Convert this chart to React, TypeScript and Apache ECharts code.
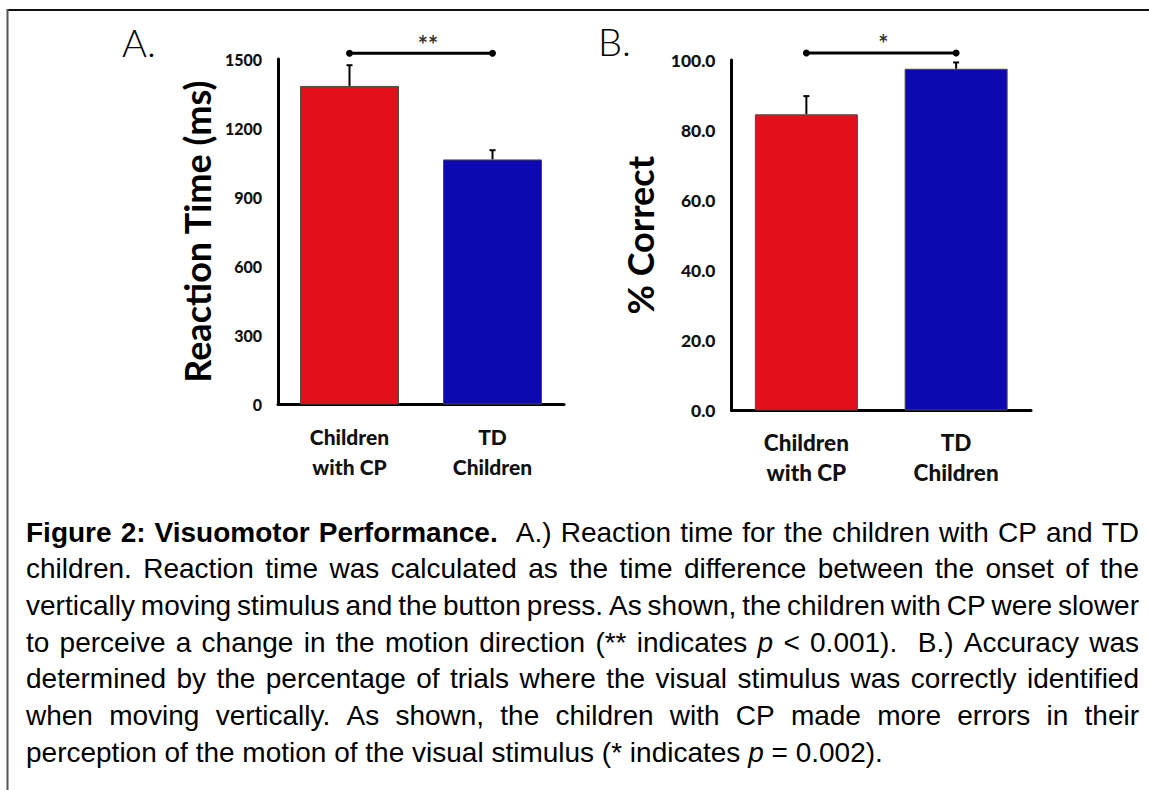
import React, { useEffect, useRef } from "react";
import * as echarts from "echarts";

// ---------- data ----------
const categories = ["Children\nwith CP", "TD\nChildren"];
const reactionTime = [1383, 1064];
const reactionTimeErr = [90, 40];
const percentCorrect = [84.5, 97.5];
const percentCorrectErr = [5.2, 1.8];
const rtAxis = { min: 0, max: 1500, interval: 300 };
const pcAxis = { min: 0, max: 100, interval: 20 };
const rtSigLevel = 1525;
const pcSigLevel = 102;
const rtSigText = "**";
const pcSigText = "*";
const barColors = ["#E1101A", "#0D09B0"];
const panelLabels = ["A.", "B."];
const axisNames = ["Reaction Time (ms)", "% Correct"];

type Seg = { t: string; b?: boolean; i?: boolean };
const captionLines: { segs: Seg[]; justify: boolean }[] = [
  { segs: [{ t: "Figure 2: Visuomotor Performance.", b: true }, { t: "  A.) Reaction time for the children with CP and TD" }], justify: true },
  { segs: [{ t: "children. Reaction time was calculated as the time difference between the onset of the" }], justify: true },
  { segs: [{ t: "vertically moving stimulus and the button press. As shown, the children with CP were slower" }], justify: true },
  { segs: [{ t: "to perceive a change in the motion direction (** indicates " }, { t: "p", i: true }, { t: " < 0.001).  B.) Accuracy was" }], justify: true },
  { segs: [{ t: "determined by the percentage of trials where the visual stimulus was correctly identified" }], justify: true },
  { segs: [{ t: "when moving vertically. As shown, the children with CP made more errors in their" }], justify: true },
  { segs: [{ t: "perception of the motion of the visual stimulus (* indicates " }, { t: "p", i: true }, { t: " = 0.002)." }], justify: false },
];

// ---------- layout constants ----------
const LABEL_FONT = "Lato, 'Open Sans', sans-serif";
const CAP_FONT = "'Liberation Sans', Arial, sans-serif";
const CAP_SIZE = 28;
const CAP_LEFT = 26;
const CAP_RIGHT = 1139;
const CAP_TOP = 532;
const CAP_LH = 36.7;

function buildCaption(): any[] {
  const canvas = document.createElement("canvas");
  const ctx = canvas.getContext("2d")!;
  const fontOf = (s: Seg) => `${s.i ? "italic " : ""}${s.b ? "bold " : ""}${CAP_SIZE}px ${CAP_FONT}`;
  const els: any[] = [];
  captionLines.forEach((line, li) => {
    const words: { t: string; seg: Seg; gapBefore: number; w: number }[] = [];
    let pendingGap = 0;
    line.segs.forEach((seg) => {
      const parts = seg.t.split(/( +)/);
      parts.forEach((p) => {
        if (p.length === 0) return;
        if (/^ +$/.test(p)) {
          pendingGap += p.length;
        } else {
          ctx.font = fontOf(seg);
          words.push({ t: p, seg, gapBefore: words.length ? pendingGap : 0, w: ctx.measureText(p).width });
          pendingGap = 0;
        }
      });
    });
    ctx.font = fontOf({ t: " " });
    const sp = ctx.measureText(" ").width;
    const totalW = words.reduce((a, w) => a + w.w, 0);
    const totalGap = words.reduce((a, w) => a + w.gapBefore, 0);
    const unit = line.justify ? (CAP_RIGHT - CAP_LEFT - totalW) / totalGap : sp;
    let x = CAP_LEFT;
    const y = CAP_TOP + li * CAP_LH;
    words.forEach((w) => {
      x += w.gapBefore * unit;
      els.push({
        type: "text",
        x,
        y,
        silent: true,
        style: {
          text: w.t,
          fill: "#000",
          fontSize: CAP_SIZE,
          fontFamily: CAP_FONT,
          fontWeight: w.seg.b ? "bold" : "normal",
          fontStyle: w.seg.i ? "italic" : "normal",
          align: "left",
          verticalAlign: "middle",
          textAlign: "left",
          textVerticalAlign: "middle",
        },
      });
      x += w.w;
    });
  });
  return els;
}

function errorSeries(values: number[], errs: number[], idx: number) {
  return {
    type: "custom",
    xAxisIndex: idx,
    yAxisIndex: idx,
    z: 1,
    clip: false,
    data: values.map((v, i) => [i, v, v + errs[i]]),
    renderItem: (_p: any, api: any) => {
      const base = api.coord([api.value(0), api.value(1)]);
      const top = api.coord([api.value(0), api.value(2)]);
      return {
        type: "group",
        children: [
          { type: "line", shape: { x1: base[0], y1: base[1], x2: top[0], y2: top[1] }, style: { stroke: "#000", lineWidth: 2 } },
          { type: "line", shape: { x1: top[0] - 3, y1: top[1], x2: top[0] + 3, y2: top[1] }, style: { stroke: "#000", lineWidth: 2 } },
        ],
      };
    },
  };
}

function sigSeries(level: number, text: string, idx: number, textDx: number) {
  return {
    type: "custom",
    xAxisIndex: idx,
    yAxisIndex: idx,
    z: 3,
    clip: false,
    data: [[0, 1, level]],
    renderItem: (_p: any, api: any) => {
      const p1 = api.coord([api.value(0), api.value(2)]);
      const p2 = api.coord([api.value(1), api.value(2)]);
      return {
        type: "group",
        children: [
          { type: "line", shape: { x1: p1[0], y1: p1[1], x2: p2[0], y2: p2[1] }, style: { stroke: "#000", lineWidth: 3 } },
          { type: "circle", shape: { cx: p1[0], cy: p1[1], r: 3.5 }, style: { fill: "#000" } },
          { type: "circle", shape: { cx: p2[0], cy: p2[1], r: 3.5 }, style: { fill: "#000" } },
          {
            type: "text",
            x: (p1[0] + p2[0]) / 2 + textDx,
            y: p1[1] - 9,
            style: { text, fill: "#333", fontSize: 24, fontWeight: "bold", fontFamily: LABEL_FONT, align: "center", verticalAlign: "middle", textAlign: "center", textVerticalAlign: "middle" },
          },
        ],
      };
    },
  };
}

function barSeries(values: number[], idx: number, width: number) {
  return {
    type: "bar",
    xAxisIndex: idx,
    yAxisIndex: idx,
    barWidth: width,
    z: 2,
    data: values.map((v, i) => ({ value: v, itemStyle: { color: barColors[i], borderColor: "#4a4a4a", borderWidth: 1 } })),
  };
}

export default function App() {
  const ref = useRef<HTMLDivElement>(null);
  useEffect(() => {
    if (!ref.current) return;
    const chart = echarts.init(ref.current, undefined, { renderer: "svg" });
    const axisLine = { show: true, lineStyle: { color: "#000", width: 3 } };
    const catAxis = (fontSize: number) => ({
      type: "category",
      data: categories,
      axisLine,
      axisTick: { show: false },
      axisLabel: { color: "#111", fontFamily: LABEL_FONT, fontWeight: 900, fontSize, lineHeight: 30, margin: 17 },
    });
    const valAxis = (ax: any, fontSize: number, name: string, gap: number, fmt: (v: number) => string) => ({
      type: "value",
      min: ax.min,
      max: ax.max,
      interval: ax.interval,
      axisLine,
      axisTick: { show: false },
      splitLine: { show: false },
      axisLabel: { color: "#111", fontFamily: LABEL_FONT, fontWeight: 900, fontSize, margin: 16, formatter: fmt },
      name,
      nameLocation: "middle",
      nameGap: gap,
      nameTextStyle: { color: "#000", fontFamily: LABEL_FONT, fontWeight: "bold", fontSize: 36 },
    });
    chart.setOption({
      animation: false,
      backgroundColor: "#fff",
      grid: [
        { left: 278, top: 59, width: 286, height: 345.5 },
        { left: 731.5, top: 60, width: 299.5, height: 350.5 },
      ],
      xAxis: [{ ...catAxis(21), gridIndex: 0 }, { ...catAxis(22.5), gridIndex: 1 }],
      yAxis: [
        { ...valAxis(rtAxis, 16, axisNames[0], 63, (v: number) => String(v)), gridIndex: 0 },
        { ...valAxis(pcAxis, 17.5, axisNames[1], 74, (v: number) => v.toFixed(1)), gridIndex: 1 },
      ],
      series: [
        barSeries(reactionTime, 0, 99),
        errorSeries(reactionTime, reactionTimeErr, 0),
        sigSeries(rtSigLevel, rtSigText, 0, 7),
        barSeries(percentCorrect, 1, 103),
        errorSeries(percentCorrect, percentCorrectErr, 1),
        sigSeries(pcSigLevel, pcSigText, 1, 2),
      ],
      graphic: [
        { type: "line", silent: true, shape: { x1: 7, y1: 10, x2: 1149, y2: 10 }, style: { stroke: "#111", lineWidth: 2 } },
        { type: "line", silent: true, shape: { x1: 7.5, y1: 9, x2: 7.5, y2: 790 }, style: { stroke: "#555", lineWidth: 2 } },
        {
          type: "text", x: 122, y: 42, silent: true,
          style: { text: panelLabels[0], fill: "#000", fontSize: 38, fontWeight: 300, fontFamily: LABEL_FONT, align: "left", verticalAlign: "middle", textAlign: "left", textVerticalAlign: "middle" },
        },
        {
          type: "text", x: 598, y: 41, silent: true,
          style: { text: panelLabels[1], fill: "#000", fontSize: 38, fontWeight: 300, fontFamily: LABEL_FONT, align: "left", verticalAlign: "middle", textAlign: "left", textVerticalAlign: "middle" },
        },
        ...buildCaption(),
      ],
    });
    return () => chart.dispose();
  }, []);
  return <div ref={ref} style={{ position: "fixed", left: 0, top: 0, width: 1149, height: 790, background: "#fff" }} />;
}
